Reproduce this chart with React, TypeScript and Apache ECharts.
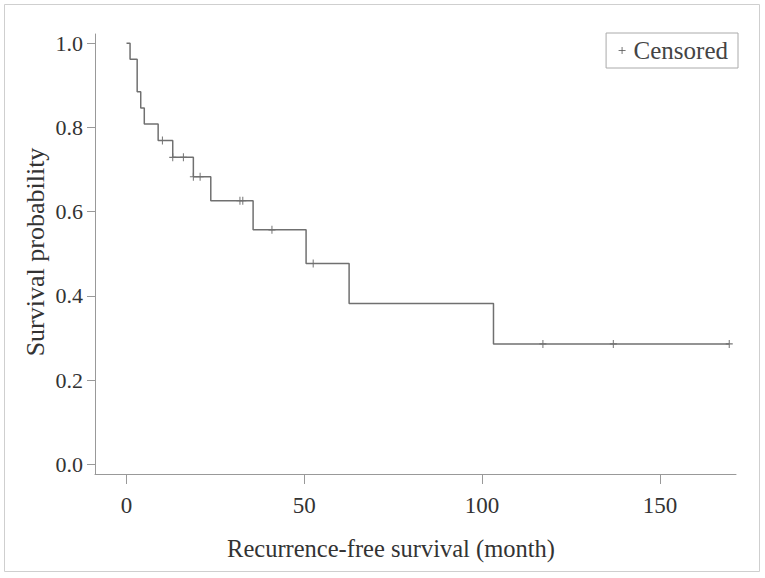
import React, { useEffect, useRef } from "react";
import * as echarts from "echarts";

// Kaplan–Meier step points (time in months, survival probability after the step)
const stepTimes = [0, 1, 3, 4, 5, 8.9, 13, 18.8, 23.7, 35.6, 50.5, 62.6, 103.2, 169.5];
const stepSurvival = [1, 0.962, 0.885, 0.846, 0.808, 0.769, 0.729, 0.683, 0.626, 0.557, 0.477, 0.382, 0.286, 0.286];

// Censored observations
const censorTimes = [10.1, 13, 16, 18.8, 20.7, 31.9, 32.7, 40.9, 52.5, 117.1, 136.9, 169.5];
const censorSurvival = [0.769, 0.729, 0.729, 0.683, 0.683, 0.626, 0.626, 0.557, 0.477, 0.286, 0.286, 0.286];

const xTicks = [0, 50, 100, 150];
const yTicks = [0, 0.2, 0.4, 0.6, 0.8, 1.0];

const xTitle = "Recurrence-free survival (month)";
const yTitle = "Survival probability";
const legendLabel = "Censored";

const FONT = "'Liberation Serif', 'DejaVu Serif', serif";
const PLUS = "path://M5,0L5,10M0,5L10,5";

export default function App() {
  const ref = useRef<HTMLDivElement>(null);

  useEffect(() => {
    if (!ref.current) return;
    const chart = echarts.init(ref.current, null, { renderer: "svg" });
    chart.setOption({
      animation: false,
      backgroundColor: "#ffffff",
      grid: { left: 95, top: 34, right: 29, bottom: 104, containLabel: false },
      xAxis: {
        type: "value",
        min: -8.86,
        max: 171.4,
        axisLine: { show: true, onZero: false, lineStyle: { color: "#999", width: 1 } },
        axisTick: { show: true, customValues: xTicks, length: 10, lineStyle: { color: "#999" } },
        axisLabel: {
          customValues: xTicks,
          margin: 20,
          fontFamily: FONT,
          fontSize: 23,
          color: "#333",
        },
        splitLine: { show: false },
      },
      yAxis: {
        type: "value",
        min: -0.023,
        max: 1.022,
        axisLine: { show: true, onZero: false, lineStyle: { color: "#999", width: 1 } },
        axisTick: { show: true, customValues: yTicks, length: 8, lineStyle: { color: "#999" } },
        axisLabel: {
          customValues: yTicks,
          margin: 12,
          fontFamily: FONT,
          fontSize: 22,
          color: "#333",
          formatter: (v: number) => v.toFixed(1),
        },
        splitLine: { show: false },
      },
      legend: {
        show: true,
        data: [legendLabel],
        right: 27,
        top: 33,
        orient: "horizontal",
        borderColor: "#aaa",
        borderWidth: 1,
        padding: [5, 10, 5, 10],
        itemWidth: 7,
        itemHeight: 7,
        itemGap: 6,
        icon: PLUS,
        itemStyle: { color: "none", borderColor: "#555", borderWidth: 1 },
        textStyle: { fontFamily: FONT, fontSize: 25, color: "#444", padding: [0, 0, 0, 3] },
      },
      graphic: [
        {
          type: "rect",
          shape: { x: 4.5, y: 4.5, width: 755, height: 567 },
          style: { fill: "none", stroke: "#cfcfcf", lineWidth: 1 },
          silent: true,
        },
        {
          type: "text",
          x: 391,
          y: 548,
          style: {
            text: xTitle,
            fontFamily: FONT,
            fontSize: 24.5,
            fill: "#333",
            align: "center",
            verticalAlign: "middle",
          },
          silent: true,
        },
        {
          type: "text",
          x: 35,
          y: 252,
          rotation: Math.PI / 2,
          style: {
            text: yTitle,
            fontFamily: FONT,
            fontSize: 26,
            fill: "#333",
            align: "center",
            verticalAlign: "middle",
          },
          silent: true,
        },
      ],
      series: [
        {
          name: "Survival",
          type: "line",
          step: "end",
          data: stepTimes.map((t, i) => [t, stepSurvival[i]]),
          showSymbol: false,
          lineStyle: { color: "#707070", width: 1.5 },
          silent: true,
        },
        {
          name: legendLabel,
          type: "scatter",
          data: censorTimes.map((t, i) => [t, censorSurvival[i]]),
          symbol: PLUS,
          symbolSize: [7, 8],
          itemStyle: { color: "none", borderColor: "#555", borderWidth: 1.1 },
          silent: true,
        },
      ],
    });
    return () => chart.dispose();
  }, []);

  return (
    <div style={{ position: "absolute", left: 0, top: 0, width: 765, height: 578 }}>
      <div ref={ref} style={{ width: 765, height: 578 }} />
    </div>
  );
}
